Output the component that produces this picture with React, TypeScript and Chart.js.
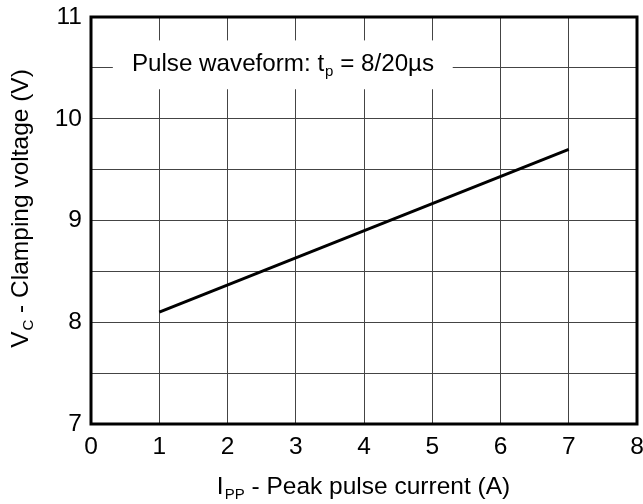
import React, { useEffect, useRef } from "react";
import { Chart, registerables } from "chart.js";

Chart.register(...registerables);

// ---- data ----
const peakCurrentA = [1, 7];
const clampVoltageV = [8.1, 9.7];
const xMin = 0;
const xMax = 8;
const yMin = 7;
const yMax = 11;
const yLabelValues = [7, 8, 9, 10, 11];

const FONT = "'Liberation Sans', Arial, Helvetica, sans-serif";

type Part = { t: string; sub?: boolean };

const xTitleParts: Part[] = [
  { t: "I" },
  { t: "PP", sub: true },
  { t: " - Peak pulse current (A)" },
];
const yTitleParts: Part[] = [
  { t: "V" },
  { t: "C", sub: true },
  { t: " - Clamping voltage (V)" },
];
const noteParts: Part[] = [
  { t: "Pulse waveform: t" },
  { t: "p", sub: true },
  { t: " = 8/20\u00b5s" },
];

// draws text with subscripts, centred on cx, alphabetic baseline at by
function drawRich(
  ctx: CanvasRenderingContext2D,
  parts: Part[],
  cx: number,
  by: number,
  size: number
) {
  const subSize = Math.round(size * 0.6);
  const widths = parts.map((p) => {
    ctx.font = `${p.sub ? subSize : size}px ${FONT}`;
    return ctx.measureText(p.t).width;
  });
  const total = widths.reduce((a, b) => a + b, 0);
  ctx.save();
  ctx.translate(cx, by);
  let x = -total / 2;
  ctx.textBaseline = "alphabetic";
  ctx.textAlign = "left";
  ctx.fillStyle = "#000";
  parts.forEach((p, i) => {
    ctx.font = `${p.sub ? subSize : size}px ${FONT}`;
    ctx.fillText(p.t, x + (p.sub ? 1 : 0), p.sub ? size * 0.22 : 0);
    x += widths[i] + (p.sub ? 1 : 0);
  });
  ctx.restore();
}

const overlayPlugin = {
  id: "overlay",
  beforeDatasetsDraw(chart: any) {
    const ctx: CanvasRenderingContext2D = chart.ctx;
    const xs = chart.scales.x;
    const ys = chart.scales.y;
    const left = xs.getPixelForValue(0.32);
    const right = xs.getPixelForValue(5.3);
    const top = ys.getPixelForValue(10.77);
    const bottom = ys.getPixelForValue(10.29);
    ctx.save();
    ctx.fillStyle = "#fff";
    ctx.fillRect(left, top, right - left, bottom - top);
    drawRich(ctx, noteParts, xs.getPixelForValue(2.806), ys.getPixelForValue(10.469), 24.2);
    ctx.restore();
  },
  afterDraw(chart: any) {
    const ctx: CanvasRenderingContext2D = chart.ctx;
    const a = chart.chartArea;
    ctx.save();
    ctx.strokeStyle = "#000";
    ctx.lineWidth = 3;
    ctx.strokeRect(a.left, a.top, a.right - a.left, a.bottom - a.top);
    drawRich(ctx, xTitleParts, (a.left + a.right) / 2 - 1, 494, 24.5);
    ctx.translate(28, 209);
    ctx.rotate(-Math.PI / 2);
    drawRich(ctx, yTitleParts, 0, 0, 24.5);
    ctx.restore();
  },
};

export default function App() {
  const ref = useRef<HTMLCanvasElement>(null);
  useEffect(() => {
    if (!ref.current) return;
    const chart = new Chart(ref.current, {
      type: "scatter",
      data: {
        datasets: [
          {
            data: peakCurrentA.map((x, i) => ({ x, y: clampVoltageV[i] })),
            showLine: true,
            borderColor: "#000",
            borderWidth: 3,
            pointRadius: 0,
            fill: false,
          },
        ],
      },
      plugins: [overlayPlugin],
      options: {
        animation: false,
        responsive: false,
        devicePixelRatio: 1,
        layout: { padding: { top: 17, right: 6, left: 0, bottom: 0 } },
        plugins: { legend: { display: false }, tooltip: { enabled: false } },
        scales: {
          x: {
            type: "linear",
            min: xMin,
            max: xMax,
            afterFit: (s: any) => {
              s.height = 80;
              s.paddingLeft = 0;
              s.paddingRight = 0;
            },
            border: { display: false },
            grid: { color: "#444", lineWidth: 1, drawTicks: false },
            ticks: {
              stepSize: 1,
              autoSkip: false,
              color: "#000",
              padding: 9,
              font: { family: FONT, size: 24.5 },
            },
          },
          y: {
            type: "linear",
            min: yMin,
            max: yMax,
            afterFit: (s: any) => {
              s.width = 91;
              s.paddingTop = 0;
              s.paddingBottom = 0;
            },
            border: { display: false },
            grid: { color: "#444", lineWidth: 1, drawTicks: false },
            ticks: {
              stepSize: 0.5,
              autoSkip: false,
              color: "#000",
              padding: 9,
              font: { family: FONT, size: 24.5 },
              callback: (v: any) => (yLabelValues.includes(Number(v)) ? String(v) : ""),
            },
          },
        },
      },
    } as any);
    return () => chart.destroy();
  }, []);
  return (
    <div style={{ position: "absolute", left: 0, top: 0, width: 643, height: 504, background: "#fff" }}>
      <canvas ref={ref} width={643} height={504} />
    </div>
  );
}
